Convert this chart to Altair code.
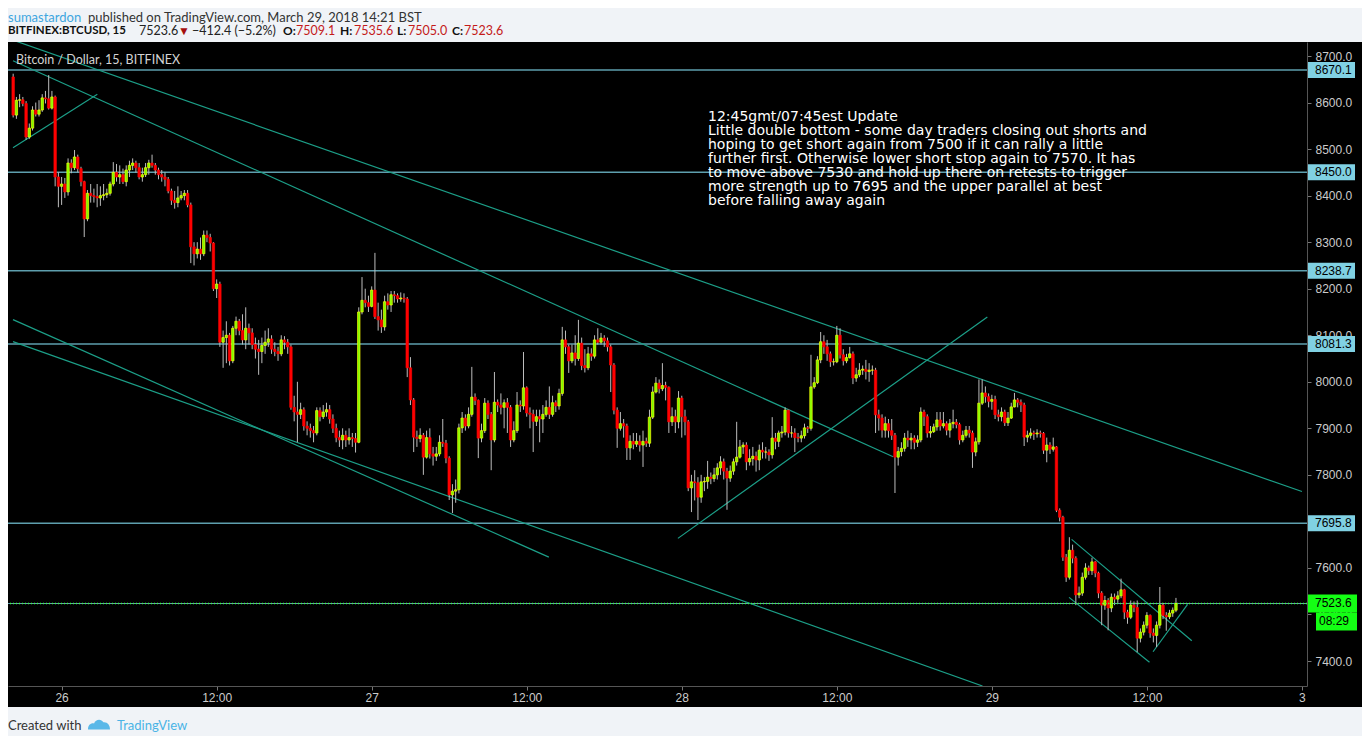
import altair as alt
import pandas as pd

# ---------------- data ----------------
first_open = 8655.0
start_index = -15  # bar index 0 = 26 Mar 00:00, 15-minute bars

close = [
    8573, 8605, 8606, 8598, 8526, 8545, 8584, 8575, 8584, 8610,
    8608, 8588, 8612, 8440, 8420, 8425, 8408, 8470, 8460, 8483,
    8458, 8430, 8350, 8405, 8400, 8398, 8395, 8400, 8402, 8405,
    8425, 8450, 8440, 8445, 8430, 8455, 8465, 8470, 8460, 8440,
    8445, 8460, 8470, 8465, 8455, 8445, 8440, 8435, 8410, 8390,
    8385, 8395, 8400, 8405, 8380, 8290, 8275, 8285, 8275, 8315,
    8310, 8298, 8200, 8210, 8085, 8095, 8100, 8045, 8115, 8130,
    8110, 8090, 8115, 8105, 8080, 8070, 8065, 8078, 8085, 8092,
    8070, 8065, 8060, 8090, 8085, 8075, 7945, 7935, 7930, 7940,
    7905, 7900, 7895, 7890, 7938, 7925, 7935, 7940, 7920, 7900,
    7880, 7875, 7885, 7875, 7880, 7878, 7870, 8150, 8175, 8170,
    8162, 8197, 8140, 8133, 8118, 8172, 8165, 8187, 8185, 8178,
    8180, 8178, 8030, 7961, 7881, 7878, 7885, 7838, 7880, 7845,
    7840, 7845, 7870, 7868, 7836, 7757, 7765, 7768, 7901, 7922,
    7905, 7930, 7967, 7960, 7879, 7895, 7954, 7930, 7875, 7956,
    7950, 7945, 7955, 7945, 7875, 7895, 7950, 7948, 7987, 7933,
    7930, 7915, 7925, 7920, 7930, 7945, 7930, 7955, 7948, 7975,
    8090, 8075, 8045, 8062, 8050, 8083, 8035, 8030, 8060, 8055,
    8090, 8085, 8094, 8088, 8075, 8036, 7939, 7900, 7910, 7905,
    7858, 7872, 7866, 7872, 7864, 7872, 7868, 7924, 7978, 7997,
    7985, 7992, 7988, 7914, 7925, 7914, 7965, 7925, 7914, 7772,
    7785, 7783, 7752, 7785, 7786, 7795, 7792, 7800, 7815, 7828,
    7808, 7793, 7808, 7828, 7838, 7860, 7864, 7828, 7835, 7840,
    7832, 7853, 7849, 7849, 7843, 7879, 7872, 7890, 7892, 7939,
    7890, 7890, 7880, 7879, 7884, 7901, 7900, 7989, 7998, 8047,
    8086, 8075, 8060, 8043, 8043, 8100, 8058, 8045, 8052, 8060,
    8008, 8015, 8025, 8027, 8022, 8025, 8025, 7929, 7922, 7896,
    7910, 7895, 7885, 7838, 7850, 7857, 7879, 7875, 7879, 7870,
    7875, 7935, 7925, 7890, 7893, 7903, 7918, 7905, 7910, 7896,
    7910, 7913, 7908, 7875, 7885, 7896, 7890, 7849, 7871, 7954,
    7976, 7968, 7958, 7962, 7929, 7925, 7935, 7912, 7922, 7946,
    7961, 7956, 7950, 7881, 7885, 7890, 7888, 7890, 7889, 7853,
    7864, 7855, 7860, 7724, 7709, 7623, 7580, 7638, 7621, 7542,
    7546, 7580, 7600, 7594, 7613, 7589, 7546, 7520, 7530, 7514,
    7537, 7533, 7540, 7553, 7505, 7494, 7520, 7515, 7449, 7462,
    7477, 7498, 7460, 7455, 7477, 7520, 7498, 7495, 7503, 7509.1,
    7523.6,
]

high = [
    8662, 8612, 8618, 8612, 8603, 8555, 8592, 8600, 8605, 8618,
    8625, 8659, 8625, 8615, 8450, 8440, 8438, 8480, 8478, 8498,
    8488, 8462, 8432, 8412, 8425, 8415, 8425, 8420, 8425, 8415,
    8430, 8472, 8468, 8465, 8458, 8465, 8475, 8480, 8475, 8470,
    8460, 8470, 8477, 8488, 8470, 8460, 8455, 8450, 8440, 8415,
    8410, 8420, 8410, 8412, 8412, 8385, 8300, 8300, 8310, 8325,
    8325, 8318, 8300, 8220, 8215, 8110, 8130, 8105, 8120, 8140,
    8135, 8145, 8160, 8125, 8115, 8095, 8090, 8095, 8110, 8115,
    8100, 8085, 8075, 8100, 8098, 8092, 8080, 7970, 8000, 7955,
    7945, 7915, 7910, 7905, 7945, 7945, 7950, 7955, 7950, 7930,
    7910, 7895, 7900, 7895, 7900, 7890, 7890, 8160, 8225, 8200,
    8185, 8205, 8277, 8170, 8155, 8185, 8190, 8195, 8195, 8190,
    8192, 8190, 8182, 8053, 7965, 7895, 7900, 7890, 7895, 7900,
    7860, 7860, 7885, 7920, 7875, 7840, 7780, 7790, 7910, 7935,
    7930, 7945, 8032, 7975, 7962, 7910, 7965, 7960, 7935, 8021,
    7962, 7975, 7962, 7965, 7950, 7915, 7978, 7960, 8064, 7990,
    7945, 7940, 7940, 7940, 7950, 7960, 7990, 7970, 7960, 7985,
    8118, 8110, 8080, 8080, 8100, 8133, 8095, 8070, 8075, 8072,
    8100, 8115, 8105, 8100, 8095, 8080, 8040, 7945, 7935, 7920,
    7910, 7885, 7890, 7890, 7885, 7895, 7880, 7940, 7990, 8010,
    8005, 8040, 8000, 7990, 7945, 7940, 7980, 7970, 7940, 7918,
    7800, 7810, 7795, 7800, 7795, 7830, 7805, 7815, 7825, 7840,
    7835, 7815, 7820, 7835, 7914, 7875, 7870, 7870, 7855, 7860,
    7850, 7865, 7870, 7860, 7855, 7924, 7890, 7895, 7905, 7945,
    7940, 7905, 7900, 7890, 7895, 7910, 7905, 8058, 8010, 8055,
    8107, 8100, 8090, 8065, 8050, 8120, 8115, 8070, 8060, 8075,
    8065, 8030, 8040, 8035, 8047, 8040, 8035, 8030, 7940, 7930,
    7925, 7920, 7920, 7890, 7860, 7870, 7890, 7895, 7890, 7885,
    7885, 7945, 7940, 7930, 7905, 7910, 7935, 7935, 7935, 7915,
    7920, 7940, 7920, 7912, 7895, 7905, 7905, 7895, 7880, 8005,
    8005, 7990, 7975, 7972, 7970, 7940, 7945, 7940, 7935, 7955,
    7976, 7965, 7962, 7955, 7895, 7900, 7895, 7898, 7895, 7892,
    7880, 7870, 7880, 7862, 7728, 7712, 7630, 7666, 7650, 7625,
    7560, 7590, 7610, 7605, 7622, 7615, 7592, 7550, 7540, 7535,
    7545, 7545, 7550, 7577, 7555, 7510, 7530, 7528, 7530, 7470,
    7485, 7505, 7500, 7470, 7485, 7559, 7525, 7505, 7510, 7515,
    7535.6,
]

low = [
    8568, 8565, 8590, 8592, 8520, 8522, 8540, 8570, 8570, 8580,
    8598, 8585, 8585, 8420, 8375, 8380, 8395, 8400, 8448, 8455,
    8450, 8420, 8311, 8345, 8385, 8385, 8375, 8378, 8390, 8395,
    8400, 8420, 8430, 8425, 8425, 8420, 8440, 8455, 8450, 8435,
    8430, 8440, 8445, 8460, 8445, 8435, 8430, 8420, 8405, 8380,
    8372, 8375, 8390, 8390, 8375, 8255, 8250, 8265, 8262, 8270,
    8300, 8280, 8195, 8180, 8075, 8030, 8040, 8035, 8040, 8100,
    8100, 8080, 8070, 8080, 8070, 8050, 8015, 8040, 8060, 8075,
    8060, 8055, 8045, 8055, 8070, 8060, 7940, 7915, 7870, 7920,
    7895, 7885, 7880, 7870, 7885, 7915, 7920, 7925, 7910, 7890,
    7870, 7860, 7855, 7860, 7865, 7860, 7848, 7868, 8145, 8160,
    8150, 8160, 8135, 8110, 8105, 8110, 8155, 8150, 8170, 8170,
    8172, 8170, 8010, 7950, 7849, 7860, 7870, 7800, 7835, 7835,
    7820, 7830, 7840, 7860, 7825, 7746, 7718, 7740, 7760, 7890,
    7895, 7900, 7925, 7950, 7836, 7870, 7890, 7920, 7810, 7870,
    7935, 7930, 7900, 7890, 7860, 7870, 7890, 7935, 7940, 7925,
    7900, 7849, 7905, 7870, 7890, 7925, 7920, 7925, 7935, 7940,
    7970, 8060, 8019, 8040, 8035, 8045, 8025, 8020, 8025, 8045,
    8050, 8080, 8080, 8075, 8065, 7978, 7930, 7858, 7895, 7880,
    7832, 7832, 7855, 7860, 7850, 7817, 7860, 7860, 7920, 7975,
    7975, 7980, 7960, 7890, 7905, 7890, 7900, 7880, 7885, 7765,
    7720, 7745, 7703, 7740, 7765, 7770, 7780, 7785, 7790, 7800,
    7790, 7725, 7785, 7800, 7820, 7835, 7845, 7810, 7820, 7820,
    7807, 7810, 7835, 7835, 7830, 7835, 7855, 7860, 7880, 7885,
    7880, 7880, 7849, 7870, 7870, 7878, 7890, 7895, 7985, 7995,
    8040, 8060, 8045, 8032, 8035, 8040, 8050, 8035, 8040, 8050,
    7995, 8000, 8010, 8015, 8005, 8000, 8015, 7890, 7895, 7880,
    7880, 7880, 7875, 7761, 7820, 7840, 7850, 7860, 7855, 7855,
    7860, 7870, 7905, 7880, 7880, 7890, 7895, 7895, 7900, 7885,
    7880, 7900, 7900, 7865, 7870, 7880, 7880, 7815, 7840, 7865,
    7950, 7955, 7945, 7940, 7920, 7915, 7915, 7905, 7905, 7920,
    7945, 7945, 7935, 7862, 7870, 7878, 7875, 7880, 7880, 7845,
    7827, 7845, 7850, 7720, 7700, 7615, 7570, 7575, 7610, 7520,
    7535, 7540, 7575, 7585, 7585, 7580, 7535, 7477, 7510, 7466,
    7505, 7520, 7525, 7535, 7490, 7480, 7490, 7505, 7419, 7440,
    7455, 7470, 7450, 7440, 7430, 7470, 7490, 7465, 7490, 7495,
    7505.0,
]

hline_prices = [8670.1, 8450.0, 8238.7, 8081.3, 7695.8]
last_price = 7523.6
countdown = "08:29"

# drawn trend lines: (bar index, price) end points
trend_id = ["A", "A", "B", "B", "C", "C", "D", "D", "E", "E",
            "F", "F", "G1", "G1", "G2", "G2", "G3", "G3"]
trend_i = [-15.05, 384.0, -15.05, 257.45, -15.05, 11.06, -15.05, 150.85,
           -15.05, 285.1, 190.8, 286.6, 312.7, 349.9, 311.9, 336.8,
           337.9, 348.6]
trend_p = [8734.1, 7764.2, 8689.9, 7838.8, 8503.0, 8617.7, 8133.6, 7623.3,
           8086.4, 7346.3, 7663.5, 8139.4, 7661.3, 7443.5, 7536.8, 7397.2,
           7419.9, 7521.7]

tick_values = [0, 48, 96, 144, 192, 240, 288, 336, 384]
tick_labels = ["26", "12:00", "27", "12:00", "28", "12:00", "29", "12:00", "3"]
price_ticks = list(range(7400, 8701, 100))

note_lines = [
    "12:45gmt/07:45est Update",
    "Little double bottom - some day traders closing out shorts and",
    "hoping to get short again from 7500 if it can rally a little",
    "further first. Otherwise lower short stop again to 7570. It has",
    "to move above 7530 and hold up there on retests to trigger",
    "more strength up to 7695 and the upper parallel at best",
    "before falling away again",
]

# ---------------- frames ----------------
n = len(close)
candles = pd.DataFrame({
    "i": list(range(start_index, start_index + n)),
    "o": [first_open] + close[:-1],
    "h": high,
    "l": low,
    "c": close,
})
hlines = pd.DataFrame({"p": hline_prices})
last_df = pd.DataFrame({"p": [last_price], "t": [countdown]})
trends = pd.DataFrame({"g": trend_id, "i": trend_i, "p": trend_p})
one = pd.DataFrame({"k": [0]})

# ---------------- scales / axes ----------------
W, H = 1299, 644
xs = alt.Scale(domain=[-15.05, 384.02], nice=False, zero=False)
ys = alt.Scale(domain=[7346.3, 8730.1], nice=False, zero=False)

label_expr = "''"
for v, t in zip(reversed(tick_values), reversed(tick_labels)):
    label_expr = f"datum.value == {v} ? '{t}' : ({label_expr})"

xaxis = alt.Axis(values=tick_values, labelExpr=label_expr, title=None, grid=False,
                 domainColor="#555555", tickColor="#777777", tickSize=4,
                 labelColor="#cccccc", labelFont="Liberation Sans", labelFontSize=12,
                 labelPadding=2, labelFlush=False, labelOverlap=False, labelBound=False)
yaxis = alt.Axis(values=price_ticks, format=".1f", orient="right", title=None, grid=False,
                 domainColor="#555555", tickColor="#777777", tickSize=4,
                 labelColor="#cccccc", labelFont="Liberation Sans", labelFontSize=12,
                 labelPadding=4, labelFlush=False, labelOverlap=False, labelBound=False)

X = lambda f: alt.X(f, type="quantitative", scale=xs, axis=xaxis)
Y = lambda f: alt.Y(f, type="quantitative", scale=ys, axis=yaxis)

layers = []

# light page areas above and below the black widget
layers.append(alt.Chart(one).mark_rect(color="#f0f3f7").encode(
    x=alt.value(0), x2=alt.value(W + 60), y=alt.value(-40), y2=alt.value(0)))
layers.append(alt.Chart(one).mark_rect(color="#f0f3f7").encode(
    x=alt.value(0), x2=alt.value(W + 60), y=alt.value(H + 21), y2=alt.value(H + 60)))

# horizontal levels
layers.append(alt.Chart(hlines).mark_rule(color="#5e9fae", strokeWidth=1.5).encode(y=Y("p")))
layers.append(alt.Chart(last_df).mark_rule(color="#5e9fae", strokeWidth=1.2).encode(y=Y("p")))

# trend lines
layers.append(alt.Chart(trends).mark_line(color="#1c9f88", strokeWidth=1.2, clip=True).encode(
    x=X("i"), y=Y("p"), detail="g:N"))

# candles
layers.append(alt.Chart(candles).mark_rule(color="#bdbdbd", strokeWidth=1, clip=True).encode(
    x=X("i"), y=Y("l"), y2="h"))
up = "datum.c >= datum.o"
layers.append(alt.Chart(candles).mark_bar(width=2.4, strokeWidth=0.7, clip=True).encode(
    x=X("i"), y=Y("o"), y2="c",
    fill=alt.condition(up, alt.value("#7cfc00"), alt.value("#ff0000")),
    stroke=alt.condition(up, alt.value("#ffff00"), alt.value("#ff0000"))))

# current price dotted line
layers.append(alt.Chart(last_df).mark_rule(color="#3cff3c", strokeWidth=1.3, strokeDash=[1, 2]).encode(
    y=Y("p")))

# right-side price tags
def box(w, h):
    hw = 1.0
    hh = h / w
    return f"M-{hw},-{hh} L{hw},-{hh} L{hw},{hh} L-{hw},{hh} Z"

layers.append(alt.Chart(hlines).mark_point(shape=box(47, 16), size=47 * 47, filled=True,
                                           opacity=1, color="#80d1e3").encode(
    x=alt.value(1323.5), y=Y("p")))
layers.append(alt.Chart(hlines).mark_text(align="left", baseline="middle", font="Liberation Sans",
                                          fontSize=12, color="#000000").encode(
    x=alt.value(1307), y=Y("p"), text=alt.Text("p:Q", format=".1f")))
layers.append(alt.Chart(last_df).mark_point(shape=box(49, 18), size=49 * 49, filled=True,
                                            opacity=1, color="#14ff14").encode(
    x=alt.value(1324.5), y=Y("p")))
layers.append(alt.Chart(last_df).mark_point(shape=box(41, 18), size=41 * 41, filled=True,
                                            opacity=1, color="#14ff14", yOffset=18).encode(
    x=alt.value(1328.5), y=Y("p")))
layers.append(alt.Chart(last_df).mark_text(align="left", baseline="middle", font="Liberation Sans",
                                           fontSize=12, color="#000000").encode(
    x=alt.value(1307), y=Y("p"), text=alt.Text("p:Q", format=".1f")))
layers.append(alt.Chart(last_df).mark_text(align="left", baseline="middle", font="Liberation Sans",
                                           fontSize=12, color="#000000", yOffset=18).encode(
    x=alt.value(1311), y=Y("p"), text="t:N"))

# chart caption and annotation
layers.append(alt.Chart(one).mark_text(text="Bitcoin / Dollar, 15, BITFINEX", align="left",
                                       baseline="middle", font="Lato", fontSize=12.5,
                                       color="#d4d4d4").encode(x=alt.value(8), y=alt.value(18)))
layers.append(alt.Chart(one).mark_text(text=note_lines, align="left", baseline="alphabetic",
                                       lineHeight=14, font="DejaVu Sans", fontSize=14,
                                       color="#ffffff").encode(x=alt.value(700), y=alt.value(79)))

# header
head = [
    ("sumastardon", 0, -24, "#3ea6e0", "normal", 13),
    ("published on TradingView.com, March 29, 2018 14:21 BST", 80, -24, "#333333", "normal", 13),
    ("BITFINEX:BTCUSD, 15", 0, -11, "#111111", "bold", 11.5),
    ("7523.6", 131, -11, "#222222", "normal", 12.5),
    ("\u25bc", 170, -11, "#a50e0e", "normal", 12),
    ("\u2212412.4 (\u22125.2%)", 184, -11, "#222222", "normal", 12.5),
    ("O:", 275, -11, "#111111", "bold", 12),
    ("7509.1", 288, -11, "#c41a1a", "normal", 12.5),
    ("H:", 332, -11, "#111111", "bold", 12),
    ("7535.6", 346, -11, "#c41a1a", "normal", 12.5),
    ("L:", 389, -11, "#111111", "bold", 12),
    ("7505.0", 400, -11, "#c41a1a", "normal", 12.5),
    ("C:", 444, -11, "#111111", "bold", 12),
    ("7523.6", 456, -11, "#c41a1a", "normal", 12.5),
]
for t, x, y, col, wt, fs in head:
    layers.append(alt.Chart(one).mark_text(text=t, align="left", baseline="middle", font="Lato",
                                           fontSize=fs, fontWeight=wt, color=col).encode(
        x=alt.value(x), y=alt.value(y)))

# footer
layers.append(alt.Chart(one).mark_text(text="Created with", align="left", baseline="middle",
                                       font="Lato", fontSize=13, color="#333333").encode(
    x=alt.value(0), y=alt.value(684)))
logo = ("M-1,0.5 C-1,0.1 -0.75,-0.1 -0.45,-0.05 C-0.3,-0.45 0.2,-0.5 0.4,-0.15 "
        "C0.75,-0.2 1,0.1 1,0.5 Z")
layers.append(alt.Chart(one).mark_point(shape=logo, size=22 * 22, filled=True, opacity=1,
                                        color="#5ab8e8").encode(x=alt.value(91), y=alt.value(682)))
layers.append(alt.Chart(one).mark_text(text="TradingView", align="left", baseline="middle",
                                       font="Lato", fontSize=13, color="#4ab3e6").encode(
    x=alt.value(109), y=alt.value(684)))

chart = alt.layer(*layers).properties(
    width=W, height=H,
    autosize=alt.AutoSizeParams(type="none"),
    padding={"left": 0, "top": 34, "right": 55, "bottom": 50},
).configure(background="#000000").configure_view(strokeWidth=0)

chart.save("out.html", embed_options={"renderer": "svg", "actions": False})
